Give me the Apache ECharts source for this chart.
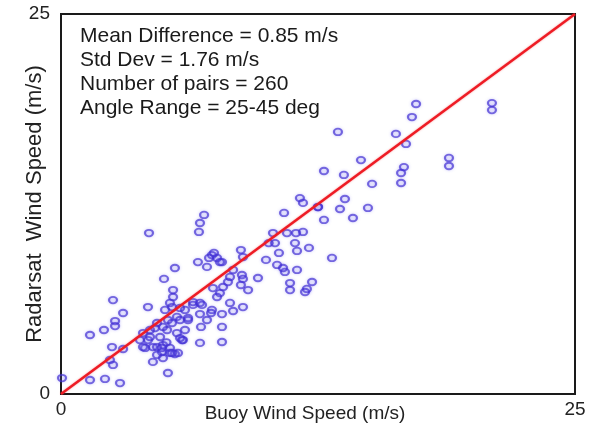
<!DOCTYPE html>
<html>
<head>
<meta charset="utf-8">
<script src="https://cdn.jsdelivr.net/npm/echarts@6/dist/echarts.min.js"></script>
<style>
  html, body { margin: 0; padding: 0; background: #fff; }
  #chart { width: 602px; height: 427px; }
</style>
</head>
<body>
<div id="chart"></div>
<script>
// Collocated wind speed pairs (m/s): buoy measurement vs. Radarsat retrieval
const buoySpeed = [
  17.27, 17.07, 20.96, 20.96, 13.47, 16.29, 16.78, 18.87, 18.87, 14.59,
  12.79, 13.76, 16.68, 16.54, 16.54, 15.13, 13.81, 13.57, 14.93, 14.20,
  12.79, 12.50, 11.77, 12.06, 13.18, 12.21, 11.62, 11.77, 10.85, 6.96,
  6.76, 6.71, 10.31, 10.99, 11.43, 10.41, 11.38, 10.60, 11.48, 9.97,
  10.51, 10.89, 11.48, 11.14, 11.96, 11.87, 11.14, 8.75, 8.85, 7.34,
  7.59, 7.83, 6.66, 7.10, 8.37, 8.80, 8.85, 9.58, 8.12, 7.39,
  7.73, 7.59, 9.10, 7.88, 4.28, 5.54, 5.01, 5.45, 2.53, 3.02,
  4.23, 2.63, 2.63, 2.09, 1.41, 2.48, 3.02, 2.38, 2.53, 1.41,
  2.14, 2.87, 0.05, 4.47, 5.20, 5.54, 3.99, 4.23, 4.47, 4.82,
  4.96, 4.91, 5.16, 5.40, 5.64, 5.45, 5.89, 6.03, 4.33, 3.84,
  4.09, 4.67, 5.30, 5.64, 5.06, 5.30, 4.67, 6.76, 6.42, 6.86,
  7.34, 7.83, 8.22, 8.37, 8.85, 6.76, 6.18, 6.81, 7.83, 5.93,
  6.76, 7.83, 7.10, 7.30, 6.42, 8.75, 8.22, 10.80, 5.20, 5.79,
  5.40, 5.69, 5.30, 3.99, 4.57, 4.96, 6.03, 6.18, 4.96, 5.79,
  4.33, 4.67, 5.40, 12.50, 10.10, 5.13, 4.90, 5.79, 7.44, 7.73,
  7.20
];
const radarsatSpeed = [
  19.08, 18.22, 19.14, 18.68, 17.24, 17.11, 16.45, 15.53, 15.00, 15.39,
  14.67, 14.41, 14.93, 14.54, 13.88, 13.82, 12.83, 12.17, 12.24, 11.58,
  11.45, 12.30, 10.66, 9.61, 8.95, 7.37, 12.89, 12.57, 11.91, 11.78,
  11.25, 10.66, 10.59, 10.59, 10.59, 9.93, 9.93, 9.28, 9.41, 8.82,
  8.49, 8.03, 8.16, 7.30, 6.91, 6.71, 6.84, 9.47, 9.01, 9.14,
  8.95, 8.68, 8.68, 8.36, 8.16, 7.83, 7.57, 7.63, 7.37, 6.97,
  6.64, 6.38, 6.84, 7.04, 10.59, 8.29, 7.57, 6.84, 6.18, 5.33,
  5.72, 4.80, 4.47, 4.21, 3.88, 3.09, 2.96, 2.24, 1.91, 0.92,
  0.99, 0.72, 1.05, 2.11, 1.38, 2.63, 4.01, 3.55, 3.09, 3.75,
  3.22, 2.76, 4.21, 4.67, 5.07, 6.38, 3.55, 5.53, 4.21, 3.55,
  3.03, 2.57, 3.03, 4.01, 5.53, 5.99, 4.67, 5.99, 5.86, 5.86,
  5.53, 5.26, 5.99, 5.46, 5.72, 5.26, 4.87, 4.41, 4.41, 3.55,
  3.36, 3.42, 4.87, 5.33, 6.05, 7.17, 7.70, 8.29, 4.87, 4.87,
  5.72, 2.70, 2.70, 3.09, 4.34, 4.41, 4.21, 5.00, 2.37, 5.66,
  3.75, 3.09, 2.70, 12.30, 9.93, 3.40, 3.03, 3.68, 9.28, 8.68,
  8.95
];
const axisMin = 0;
const axisMax = 25;
const statLines = [
  'Mean Difference = 0.85 m/s',
  'Std Dev = 1.76 m/s',
  'Number of pairs = 260',
  'Angle Range = 25-45 deg'
];

const pairs = buoySpeed.map((b, i) => [b, radarsatSpeed[i]]);
const FONT = '"Liberation Sans", Arial, sans-serif';

const chart = echarts.init(document.getElementById('chart'), null, { renderer: 'canvas' });

chart.setOption({
  animation: false,
  backgroundColor: '#ffffff',
  grid: {
    left: 61, top: 14, width: 514, height: 380,
    outerBoundsMode: 'none', containLabel: false,
    show: true, borderColor: '#1a1a1a', borderWidth: 2, backgroundColor: 'transparent'
  },
  xAxis: {
    type: 'value', min: axisMin, max: axisMax, interval: axisMax - axisMin,
    name: 'Buoy Wind Speed (m/s)', nameLocation: 'middle', nameGap: 10, nameMoveOverlap: false,
    nameTextStyle: { color: '#222', fontSize: 19, fontFamily: FONT, verticalAlign: 'top', padding: [0, 26, 0, 0] },
    axisLine: { show: false }, axisTick: { show: false }, splitLine: { show: false },
    axisLabel: { color: '#222', fontSize: 19, fontFamily: FONT, margin: 6 }
  },
  yAxis: {
    type: 'value', min: axisMin, max: axisMax, interval: axisMax - axisMin,
    name: 'Radarsat  Wind Speed (m/s)', nameLocation: 'middle', nameGap: 15, nameMoveOverlap: false,
    nameTextStyle: { color: '#222', fontSize: 22, fontFamily: FONT, verticalAlign: 'bottom' },
    axisLine: { show: false }, axisTick: { show: false }, splitLine: { show: false },
    axisLabel: { color: '#222', fontSize: 19, fontFamily: FONT, margin: 11 }
  },
  graphic: statLines.map((t, i) => ({
    type: 'text', x: 80, y: 36 + i * 24, z: 10,
    style: { text: t, fill: '#1a1a1a', font: '21px ' + FONT, align: 'left', verticalAlign: 'middle' }
  })),
  series: [
    {
      type: 'scatter',
      data: pairs,
      symbol: 'circle',
      symbolSize: [8, 6.5],
      itemStyle: {
        color: 'rgba(120,110,240,0.1)',
        borderColor: 'rgba(65,45,210,0.85)',
        borderWidth: 2,
        shadowBlur: 3,
        shadowColor: 'rgba(100,90,240,0.5)'
      },
      z: 2
    },
    {
      type: 'line',
      data: [[axisMin, axisMin], [axisMax, axisMax]],
      symbol: 'none',
      lineStyle: { color: '#ee1c25', width: 2.5, shadowBlur: 2, shadowColor: 'rgba(240,60,60,0.5)' },
      z: 3
    }
  ]
});
</script>
</body>
</html>
